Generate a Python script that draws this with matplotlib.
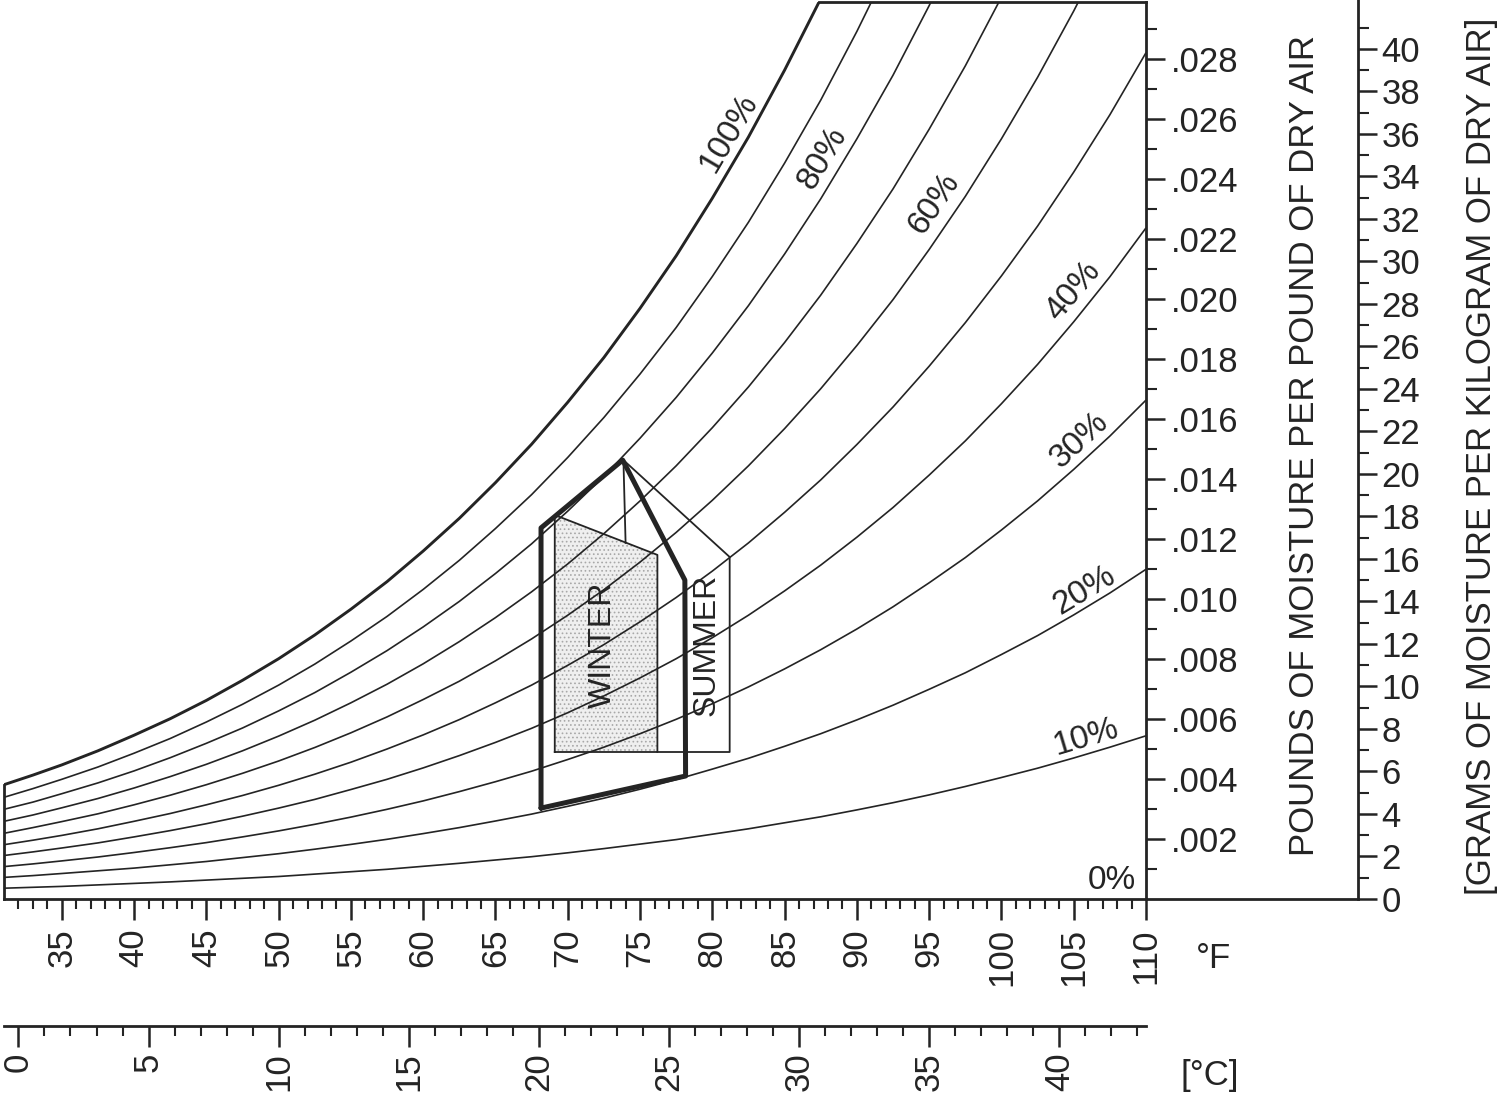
import numpy as np
import matplotlib.pyplot as plt

plt.rcParams['font.family'] = ['Liberation Sans', 'DejaVu Sans']
plt.rcParams['hatch.linewidth'] = 0.7

nan = np.nan

# -----------------------------------------
# Data
# -----------------------------------------
# dry bulb temperature grid (deg F)
temp_f = [31, 33, 35, 37.5, 40, 42.5, 45, 47.5, 50, 52.5, 55, 57.5, 60, 62.5, 65, 67.5,
          70, 72.5, 75, 77.5, 80, 82.5, 85, 87.5, 90, 92.5, 95, 97.5, 100, 102.5, 105,
          107.5, 110]

# humidity ratio (lb moisture / lb dry air) along each relative humidity curve
# (nan = curve has left the chart through the top edge)
w_10 = [0.00036, 0.00039, 0.00042, 0.00047, 0.00052, 0.00057, 0.00063, 0.00069, 0.00075,
        0.00083, 0.00091, 0.00099, 0.00109, 0.00119, 0.00130, 0.00141, 0.00154, 0.00168,
        0.00183, 0.00198, 0.00216, 0.00234, 0.00254, 0.00274, 0.00297, 0.00321, 0.00347,
        0.00375, 0.00405, 0.00436, 0.00470, 0.00506, 0.00544]
w_20 = [0.00072, 0.00078, 0.00085, 0.00094, 0.00103, 0.00114, 0.00125, 0.00138, 0.00151,
        0.00166, 0.00182, 0.00199, 0.00218, 0.00238, 0.00260, 0.00283, 0.00309, 0.00336,
        0.00366, 0.00398, 0.00433, 0.00469, 0.00509, 0.00551, 0.00597, 0.00646, 0.00699,
        0.00754, 0.00815, 0.00878, 0.00947, 0.01020, 0.01099]
w_30 = [0.00108, 0.00117, 0.00127, 0.00140, 0.00155, 0.00171, 0.00188, 0.00207, 0.00227,
        0.00249, 0.00273, 0.00299, 0.00327, 0.00358, 0.00391, 0.00426, 0.00465, 0.00506,
        0.00551, 0.00599, 0.00651, 0.00707, 0.00767, 0.00831, 0.00900, 0.00974, 0.01054,
        0.01138, 0.01230, 0.01327, 0.01432, 0.01543, 0.01663]
w_40 = [0.00145, 0.00157, 0.00170, 0.00187, 0.00207, 0.00228, 0.00251, 0.00276, 0.00303,
        0.00332, 0.00365, 0.00399, 0.00437, 0.00478, 0.00522, 0.00569, 0.00621, 0.00677,
        0.00737, 0.00801, 0.00871, 0.00946, 0.01027, 0.01113, 0.01206, 0.01305, 0.01413,
        0.01527, 0.01651, 0.01782, 0.01924, 0.02074, 0.02237]
w_50 = [0.00181, 0.00196, 0.00212, 0.00234, 0.00259, 0.00285, 0.00314, 0.00345, 0.00379,
        0.00416, 0.00456, 0.00500, 0.00547, 0.00598, 0.00654, 0.00713, 0.00779, 0.00848,
        0.00924, 0.01005, 0.01093, 0.01187, 0.01289, 0.01397, 0.01515, 0.01640, 0.01776,
        0.01921, 0.02077, 0.02243, 0.02423, 0.02614, 0.02821]
w_60 = [0.00219, 0.00238, 0.00258, 0.00284, 0.00314, 0.00346, 0.00381, 0.00419, 0.00460,
        0.00505, 0.00554, 0.00607, 0.00665, 0.00726, 0.00794, 0.00867, 0.00946, 0.01031,
        0.01123, 0.01222, 0.01329, 0.01444, 0.01568, 0.01701, 0.01845, 0.01998, 0.02165,
        0.02342, 0.02534, 0.02739, 0.02960, 0.03196, nan]
w_70 = [0.00259, 0.00280, 0.00304, 0.00335, 0.00370, 0.00408, 0.00449, 0.00494, 0.00543,
        0.00596, 0.00654, 0.00716, 0.00784, 0.00858, 0.00938, 0.01024, 0.01117, 0.01218,
        0.01327, 0.01444, 0.01571, 0.01707, 0.01855, 0.02013, 0.02185, 0.02367, 0.02566,
        0.02777, 0.03006, nan, nan, nan, nan]
w_80 = [0.00299, 0.00323, 0.00351, 0.00387, 0.00427, 0.00471, 0.00519, 0.00570, 0.00627,
        0.00688, 0.00756, 0.00828, 0.00907, 0.00992, 0.01085, 0.01184, 0.01293, 0.01409,
        0.01536, 0.01672, 0.01820, 0.01978, 0.02150, 0.02334, 0.02534, 0.02746, 0.02978,
        0.03225, nan, nan, nan, nan, nan]
w_90 = [0.00339, 0.00368, 0.00399, 0.00440, 0.00486, 0.00535, 0.00590, 0.00649, 0.00713,
        0.00783, 0.00860, 0.00942, 0.01032, 0.01129, 0.01235, 0.01348, 0.01472, 0.01605,
        0.01750, 0.01905, 0.02075, 0.02256, 0.02453, 0.02663, 0.02892, 0.03137,
        nan, nan, nan, nan, nan, nan, nan]
w_100 = [0.00381, 0.00413, 0.00447, 0.00494, 0.00546, 0.00601, 0.00662, 0.00729, 0.00801,
         0.00880, 0.00966, 0.01058, 0.01160, 0.01269, 0.01388, 0.01516, 0.01656, 0.01805,
         0.01969, 0.02144, 0.02336, 0.02540, 0.02763, 0.03001,
         nan, nan, nan, nan, nan, nan, nan, nan, nan]

rh_curves = {10: w_10, 20: w_20, 30: w_30, 40: w_40, 50: w_50,
             60: w_60, 70: w_70, 80: w_80, 90: w_90, 100: w_100}

# curve labels and where they sit (deg F, lb/lb)
label_rh = [10, 20, 30, 40, 60, 80, 100]
label_t = [105.85, 105.78, 105.43, 104.95, 95.33, 87.65, 81.15]
label_w = [0.0054, 0.0103, 0.0153, 0.02027, 0.02317, 0.0247, 0.02553]

# comfort zones
winter_t = [69.1, 69.1, 76.2, 76.2, 69.1]
winter_w = [0.0049, 0.0128, 0.01147, 0.0049, 0.0049]
summer_t = [74.0, 73.85, 81.2, 81.2, 76.2]
summer_w = [0.01187, 0.01463, 0.0114, 0.0049, 0.0049]
comfort_t = [68.15, 68.15, 73.8, 78.1, 78.15, 68.15]
comfort_w = [0.00303, 0.01237, 0.01463, 0.01063, 0.0041, 0.00303]

# axis ranges
t_min, t_max = 31, 110
w_max = 0.0299
g_max = 42.3

ink = '#242424'
fs = 25

# -----------------------------------------
# Figure layout (pixel based)
# -----------------------------------------
W_PX, H_PX = 1499, 1095
fig = plt.figure(figsize=(W_PX / 100, H_PX / 100), dpi=100)

x0, x1 = 4, 1146        # main chart left / right edge
y_base, y_top = 899, 2  # main chart bottom / top edge
left = x0 / W_PX
width = (x1 - x0) / W_PX
bottom = (H_PX - y_base) / H_PX
height = (y_base - y_top) / H_PX

ax = fig.add_axes([left, bottom, width, height])
ax.set_xlim(t_min, t_max)
ax.set_ylim(0, w_max)

# relative humidity curves
for rh, w in rh_curves.items():
    lw = 2.1 if rh == 100 else 1.2
    ax.plot(temp_f, w, color=ink, lw=lw, solid_joinstyle='round',
            solid_capstyle='butt', zorder=2)

# curve labels, turned to follow the curves
for rh, lt, lw_ in zip(label_rh, label_t, label_w):
    w = rh_curves[rh]
    i = int(np.searchsorted(temp_f, lt)) - 1
    p0 = ax.transData.transform((temp_f[i], w[i]))
    p1 = ax.transData.transform((temp_f[i + 1], w[i + 1]))
    ang = np.degrees(np.arctan2(p1[1] - p0[1], p1[0] - p0[0]))
    ax.text(lt, lw_, f'{rh}%', rotation=ang, rotation_mode='anchor',
            ha='center', va='center', fontsize=fs - 1, color=ink, zorder=4)
ax.text(107.65, 0.00063, '0%', ha='center', va='center', fontsize=fs - 1, color=ink)

# winter zone: speckled fill then outline
ax.fill(winter_t, winter_w, facecolor='#efefef', edgecolor='#a8a8a8',
        hatch='....', linewidth=0, zorder=1)
ax.plot(winter_t, winter_w, color=ink, lw=1.3, zorder=3)
ax.plot(summer_t, summer_w, color=ink, lw=1.3, zorder=3)
ax.plot(comfort_t, comfort_w, color=ink, lw=3.6, solid_joinstyle='round',
        solid_capstyle='round', zorder=3)

ax.text(72.4, 0.00847, 'WINTER', rotation=90, ha='center', va='center',
        fontsize=fs - 2, color=ink, zorder=4)
ax.text(79.63, 0.00847, 'SUMMER', rotation=90, ha='center', va='center',
        fontsize=fs - 2, color=ink, zorder=4)

# spines: the chart is open above the saturation curve
for s in ax.spines.values():
    s.set_linewidth(2.0)
    s.set_color(ink)
sat = np.isfinite(w_100)
ax.spines['left'].set_bounds(0, w_100[0])
ax.spines['top'].set_bounds(np.interp(w_max, np.array(w_100)[sat], np.array(temp_f)[sat]), t_max)

# deg F ticks
ax.set_xticks(np.arange(35, 111, 5))
ax.set_xticks(np.arange(32, 110, 1), minor=True)
ax.tick_params(axis='x', which='major', direction='out', length=15, width=1.8,
               pad=6, labelsize=fs, labelrotation=90, colors=ink)
ax.tick_params(axis='x', which='minor', direction='out', length=7, width=1.5, colors=ink)

# pounds of moisture ticks on the right spine
ax.yaxis.tick_right()
ax.set_yticks(np.arange(0.002, 0.0285, 0.002))
ax.set_yticks(np.arange(0.001, 0.0295, 0.002), minor=True)
ax.set_yticklabels([f'{v:.3f}'.lstrip('0') for v in np.arange(0.002, 0.0285, 0.002)])
ax.tick_params(axis='y', which='major', direction='out', length=14, width=1.8,
               pad=4, labelsize=fs, colors=ink)
ax.tick_params(axis='y', which='minor', direction='out', length=8, width=1.5, colors=ink)
ax.text((1305 - x0) / (x1 - x0), (y_base - 445) / (y_base - y_top),
        'POUNDS OF MOISTURE PER POUND OF DRY AIR', transform=ax.transAxes,
        rotation=90, ha='center', va='center', fontsize=fs, color=ink)

# -----------------------------------------
# Grams per kilogram scale
# -----------------------------------------
g_x = 1358
ax2 = fig.add_axes([x1 / W_PX, bottom, (g_x - x1) / W_PX, y_base / H_PX])
ax2.patch.set_alpha(0)
ax2.set_ylim(0, g_max)
ax2.set_xticks([])
for side in ['top', 'left']:
    ax2.spines[side].set_visible(False)
for side in ['bottom', 'right']:
    ax2.spines[side].set_linewidth(2.0)
    ax2.spines[side].set_color(ink)
ax2.yaxis.tick_right()
ax2.set_yticks(np.arange(0, 41, 2))
ax2.set_yticks(np.arange(1, 43, 2), minor=True)
ax2.tick_params(axis='y', which='major', direction='out', length=14, width=1.8,
                pad=3, labelsize=fs, colors=ink)
ax2.tick_params(axis='y', which='minor', direction='out', length=8, width=1.5, colors=ink)
ax2.text((1482 - x1) / (g_x - x1), (y_base - 456) / y_base,
         '[GRAMS OF MOISTURE PER KILOGRAM OF DRY AIR]', transform=ax2.transAxes,
         rotation=90, ha='center', va='center', fontsize=fs, color=ink)

# -----------------------------------------
# Celsius scale below
# -----------------------------------------
c_y = 1026
ax3 = fig.add_axes([left, (H_PX - c_y) / H_PX, width, 0.0001])
ax3.patch.set_alpha(0)
ax3.set_xlim((t_min - 32) / 1.8, (t_max - 32) / 1.8)
ax3.set_yticks([])
for side in ['top', 'left', 'right']:
    ax3.spines[side].set_visible(False)
ax3.spines['bottom'].set_linewidth(2.0)
ax3.spines['bottom'].set_color(ink)
ax3.set_xticks(np.arange(0, 41, 5))
ax3.set_xticks(np.arange(0, 44, 1), minor=True)
ax3.tick_params(axis='x', which='major', direction='out', length=15, width=1.8,
                pad=4, labelsize=fs, labelrotation=90, colors=ink)
ax3.tick_params(axis='x', which='minor', direction='out', length=7, width=1.5, colors=ink)

fig.text(1213 / W_PX, 1 - 958 / H_PX, '°F', ha='center', va='center',
         fontsize=fs, color=ink)
fig.text(1210 / W_PX, 1 - 1075 / H_PX, '[°C]', ha='center', va='center',
         fontsize=fs, color=ink)

fig.savefig('out.png', dpi=100, facecolor='white')
